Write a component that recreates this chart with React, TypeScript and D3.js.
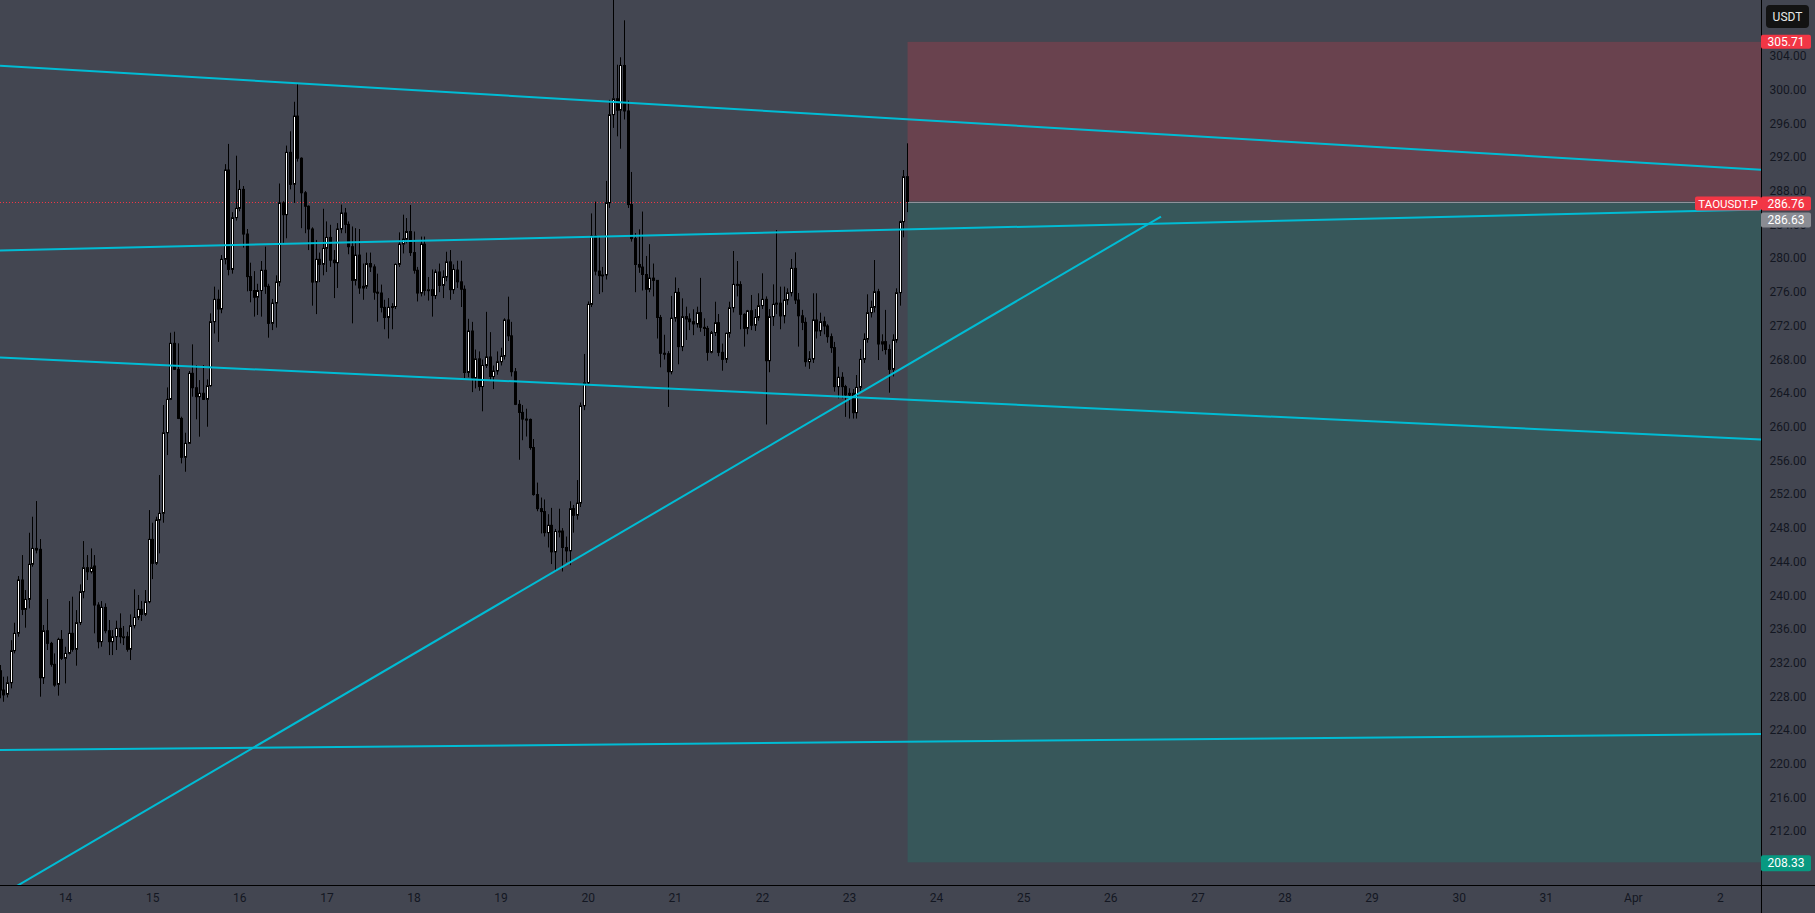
import React from 'react';
import * as d3 from 'd3';

const W = 1815;
const H = 913;
const PLOT_R = 1761;
const PLOT_B = 885;
const HOUR = 3600e3;

// first candle open time (1h candles)
const firstCandle = Date.UTC(2025, 2, 13, 6);

const opens = [
  231.07, 228.78, 228.27, 229.65, 233.45, 235.51, 241.84, 238.35, 239.54, 243.7,
  245.59, 245.48, 230.24, 235.82, 234.32, 231.83, 229.45, 234.79, 232.54, 233.13,
  235.51, 233.61, 236.78, 240.45, 243.3, 242.82, 243.5, 238.87, 234.52, 238.59,
  235.82, 234.52, 235.11, 236.1, 235.11, 235.11, 233.61, 236.42, 237.4, 238.35,
  237.76, 239.26, 246.66, 243.82, 248.96, 249.75, 259.32, 263.28, 269.93, 266.84,
  261.02, 256.4, 258.06, 266.37, 264.66, 263.6, 264.0, 263.28, 264.9, 272.5,
  275.15, 274.0, 279.9, 290.5, 278.7, 284.85, 285.95, 288.2, 282.9, 277.85,
  276.2, 275.4, 276.2, 278.6, 276.7, 272.3, 274.7, 277.2, 286.6, 285.2,
  292.6, 288.8, 296.9, 291.9, 287.8, 286.2, 283.5, 277.2, 279.9, 279.3,
  281.2, 282.5, 279.8, 279.5, 283.5, 285.4, 284.05, 281.4, 277.4, 280.4,
  276.5, 276.7, 279.4, 279.0, 276.0, 275.9, 274.2, 273.0, 274.2, 274.3,
  279.3, 281.7, 282.3, 283.2, 280.7, 278.6, 275.9, 281.7, 276.2, 276.3,
  275.6, 278.4, 276.8, 277.8, 279.6, 276.3, 278.63, 277.23, 276.35, 266.47,
  271.39, 265.81, 268.09, 264.8, 267.3, 268.31, 265.99, 266.65, 267.74, 268.4,
  272.7, 270.82, 266.56, 262.69, 261.73, 260.94, 260.9, 257.56, 251.98, 250.31,
  249.96, 247.46, 248.33, 245.18, 247.6, 247.65, 245.7, 245.3, 250.31, 249.52,
  250.97, 262.52, 265.24, 274.55, 282.67, 278.5, 277.97, 278.05, 286.62, 297.07,
  298.96, 297.6, 302.91, 297.51, 286.4, 282.36, 279.29, 278.98, 278.1, 276.35,
  277.67, 277.4, 273.0, 268.75, 268.7, 266.56, 272.92, 275.98, 269.54, 273.1,
  272.82, 272.5, 272.23, 273.57, 271.83, 271.7, 268.86, 271.2, 272.38, 268.86,
  268.03, 271.12, 274.16, 276.93, 276.9, 273.37, 271.71, 273.8, 272.07, 273.0,
  274.4, 275.15, 267.87, 273.1, 274.56, 274.7, 273.18, 275.07, 275.94, 278.83,
  275.07, 273.2, 272.42, 267.75, 268.07, 272.7, 271.4, 272.5, 271.99, 270.72,
  269.42, 264.79, 265.9, 264.79, 263.8, 264.0, 261.7, 264.7, 268.03, 270.41,
  273.57, 274.2, 276.06, 269.85, 270.13, 269.2, 266.84, 270.33, 275.94, 284.37,
  289.71,
];

const highs = [
  231.75, 230.36, 230.4, 234.7, 236.77, 242.31, 244.8, 240.65, 247.45, 249.35,
  251.21, 246.7, 236.5, 239.58, 234.5, 233.13, 234.99, 235.9, 233.92, 239.34,
  239.86, 238.27, 241.32, 246.46, 244.8, 245.59, 244.8, 239.2, 239.34, 239.07,
  237.09, 235.9, 237.01, 237.88, 236.38, 235.7, 237.76, 240.73, 240.06, 239.34,
  240.65, 250.14, 248.64, 249.35, 254.3, 262.61, 264.7, 271.19, 271.31, 269.93,
  261.22, 259.32, 266.64, 269.81, 267.35, 265.57, 267.35, 265.65, 273.49, 276.66,
  276.3, 280.4, 291.2, 293.6, 285.5, 292.2, 289.3, 288.6, 283.5, 279.5,
  278.5, 277.0, 279.7, 281.4, 277.0, 275.2, 278.0, 288.9, 286.8, 293.4,
  295.1, 298.6, 300.7, 292.0, 288.0, 286.3, 283.7, 282.2, 280.7, 285.9,
  284.4, 284.0, 281.0, 284.2, 286.4, 286.0, 284.4, 283.8, 283.6, 283.5,
  279.4, 280.7, 280.7, 279.3, 278.2, 276.9, 275.1, 275.3, 274.7, 279.4,
  283.1, 285.2, 284.8, 286.35, 283.2, 279.0, 282.6, 282.6, 277.8, 278.7,
  278.7, 279.4, 278.6, 280.8, 281.0, 279.3, 279.73, 279.73, 276.8, 272.84,
  272.48, 269.19, 268.97, 268.0, 273.67, 271.26, 267.3, 268.97, 269.41, 272.9,
  275.47, 272.48, 267.0, 263.2, 262.6, 262.17, 261.0, 258.57, 253.4, 251.63,
  251.4, 249.65, 250.4, 247.9, 250.3, 248.0, 247.0, 251.19, 250.75, 253.7,
  262.9, 268.67, 274.9, 285.35, 286.75, 282.58, 279.0, 289.2, 298.83, 311.5,
  303.0, 303.88, 308.27, 298.74, 290.27, 283.02, 283.46, 285.57, 280.3, 281.7,
  279.4, 277.4, 273.3, 270.95, 269.0, 275.56, 277.75, 276.5, 275.27, 274.28,
  273.49, 273.97, 274.28, 277.7, 272.9, 272.0, 271.4, 274.87, 273.41, 269.9,
  271.2, 274.87, 280.89, 279.7, 277.3, 273.5, 273.9, 275.67, 274.0, 275.87,
  278.24, 275.5, 274.0, 276.93, 283.38, 276.66, 276.66, 276.46, 279.94, 280.73,
  275.9, 273.9, 273.0, 269.0, 275.87, 275.87, 273.57, 273.1, 272.2, 271.1,
  270.1, 267.16, 266.5, 265.0, 264.6, 264.5, 266.17, 269.22, 271.12, 275.75,
  275.0, 279.82, 276.4, 271.0, 273.9, 269.8, 271.0, 276.46, 284.5, 290.5,
  293.67,
];

const lows = [
  227.8, 227.39, 227.9, 228.98, 233.13, 235.11, 237.68, 236.18, 238.47, 243.42,
  245.0, 227.99, 229.5, 233.53, 231.55, 229.17, 228.11, 232.34, 229.57, 233.01,
  233.33, 231.67, 236.49, 239.66, 241.84, 242.6, 235.51, 233.73, 233.92, 235.51,
  232.93, 232.93, 233.53, 234.32, 234.12, 233.33, 232.34, 236.1, 237.09, 236.98,
  237.56, 239.07, 241.95, 243.62, 245.0, 248.64, 256.67, 263.2, 266.76, 260.94,
  255.68, 254.69, 257.98, 263.6, 260.91, 258.85, 263.2, 260.03, 264.8, 271.1,
  270.1, 273.5, 279.3, 278.0, 278.2, 284.5, 285.6, 281.3, 276.1, 274.8,
  273.1, 273.3, 273.1, 275.8, 270.6, 271.5, 271.8, 276.7, 281.8, 282.4,
  288.2, 286.6, 291.5, 283.6, 283.0, 281.0, 274.4, 273.4, 277.2, 278.0,
  278.4, 279.0, 275.3, 276.5, 283.0, 283.0, 280.5, 272.3, 276.8, 275.8,
  275.1, 276.4, 278.4, 275.1, 272.5, 273.6, 271.6, 270.5, 271.6, 274.0,
  279.0, 280.6, 281.8, 280.3, 278.2, 274.9, 275.5, 275.6, 275.0, 273.1,
  275.2, 276.0, 275.3, 277.3, 275.1, 275.8, 276.5, 274.24, 265.8, 265.9,
  264.14, 264.58, 264.3, 261.86, 267.0, 265.5, 264.5, 266.2, 267.3, 268.0,
  270.2, 266.0, 262.6, 256.11, 258.43, 258.87, 257.3, 251.85, 250.0, 247.37,
  247.0, 245.7, 243.73, 242.85, 246.9, 242.85, 243.95, 243.6, 247.46, 249.0,
  250.5, 262.0, 264.93, 274.24, 278.0, 275.78, 276.0, 277.5, 286.0, 295.5,
  294.5, 293.03, 296.5, 286.0, 282.0, 276.0, 278.3, 276.2, 272.79, 276.0,
  275.5, 270.5, 267.08, 268.0, 262.38, 266.25, 272.5, 267.44, 269.0, 270.33,
  271.5, 270.9, 271.8, 271.3, 270.8, 267.87, 268.74, 270.8, 268.4, 266.68,
  267.6, 270.6, 273.6, 275.5, 271.59, 269.54, 271.0, 271.5, 271.4, 272.6,
  274.0, 260.3, 266.5, 272.0, 273.4, 271.6, 272.3, 274.5, 275.5, 274.6,
  269.54, 271.5, 267.16, 266.9, 267.6, 270.5, 270.8, 271.0, 270.0, 268.8,
  264.2, 263.4, 263.4, 261.2, 261.0, 261.0, 261.0, 264.3, 267.6, 270.0,
  273.0, 273.6, 267.95, 269.0, 268.6, 264.07, 266.0, 270.0, 274.4, 282.51,
  285.5,
];

const closes = [
  228.78, 228.2, 229.65, 233.45, 235.51, 241.84, 238.35, 239.54, 243.7, 245.59,
  245.4, 230.24, 235.82, 234.32, 231.83, 229.37, 234.79, 232.54, 233.13, 235.51,
  233.61, 236.78, 240.45, 243.3, 242.82, 243.3, 238.87, 234.52, 238.59, 235.82,
  234.52, 235.11, 236.1, 235.11, 235.11, 233.61, 236.42, 237.4, 238.35, 237.76,
  239.26, 246.66, 243.82, 248.96, 249.75, 259.32, 263.28, 269.93, 266.84, 261.02,
  256.4, 258.06, 266.37, 264.66, 263.6, 264.0, 263.28, 264.9, 272.5, 275.15,
  274.0, 279.9, 290.5, 278.7, 284.85, 285.95, 288.2, 282.9, 277.85, 276.2,
  275.4, 276.2, 278.6, 276.7, 272.3, 274.7, 277.2, 286.6, 285.2, 292.6,
  288.8, 296.9, 291.9, 287.8, 286.2, 283.5, 277.2, 279.9, 279.3, 281.2,
  282.5, 279.8, 279.5, 283.5, 285.4, 284.05, 281.4, 277.4, 280.4, 276.5,
  276.7, 279.4, 279.0, 276.0, 275.9, 274.2, 273.0, 274.2, 274.3, 279.3,
  281.7, 282.3, 283.2, 280.7, 278.6, 275.9, 281.7, 276.2, 276.3, 275.6,
  278.4, 276.8, 277.8, 279.6, 276.3, 278.7, 277.23, 276.35, 266.47, 271.39,
  265.81, 268.09, 264.8, 267.3, 268.31, 265.99, 266.65, 267.74, 268.4, 272.7,
  270.82, 266.56, 262.69, 261.73, 260.94, 260.9, 257.56, 251.98, 250.31, 249.96,
  247.46, 248.33, 245.18, 247.6, 247.65, 245.7, 245.3, 250.31, 249.52, 250.97,
  262.52, 265.24, 274.55, 282.67, 278.5, 277.97, 278.05, 286.62, 297.07, 298.96,
  297.6, 302.91, 297.51, 286.4, 282.36, 279.29, 278.98, 278.1, 276.35, 277.67,
  277.4, 273.0, 268.75, 268.7, 266.56, 272.92, 275.98, 269.54, 273.1, 272.82,
  272.5, 272.23, 273.57, 271.83, 271.7, 268.86, 271.2, 272.38, 268.86, 268.03,
  271.12, 274.16, 276.93, 276.9, 273.37, 271.71, 273.8, 272.07, 273.0, 274.4,
  275.15, 267.87, 273.1, 274.56, 274.7, 273.18, 275.07, 275.94, 278.83, 275.07,
  273.2, 272.42, 267.75, 268.07, 272.7, 271.4, 272.5, 271.99, 270.72, 269.42,
  264.79, 265.9, 264.79, 263.8, 264.0, 261.7, 264.7, 268.03, 270.41, 273.57,
  274.2, 276.06, 269.85, 270.13, 269.2, 266.84, 270.33, 275.94, 284.37, 289.71,
  286.76,
];

// axis ticks
const priceTicks = d3.range(208, 305, 4);
const dayTickDates = d3.range(0, 20).map((d) => Date.UTC(2025, 2, 14 + d));
const dayTickLabels = [
  '14', '15', '16', '17', '18', '19', '20', '21', '22', '23',
  '24', '25', '26', '27', '28', '29', '30', '31', 'Apr', '2',
];

// trend lines: [time, price] anchor pairs
const extendedLines: [number, number][][] = [
  [[Date.UTC(2025, 2, 14), 302.42], [Date.UTC(2025, 3, 1), 291.44]],
  [[Date.UTC(2025, 2, 14), 281.13], [Date.UTC(2025, 3, 1), 285.45]],
  [[Date.UTC(2025, 2, 14), 267.89], [Date.UTC(2025, 3, 1), 259.23]],
  [[Date.UTC(2025, 2, 14), 221.73], [Date.UTC(2025, 3, 1), 223.42]],
];
const segmentLine: [number, number][] = [
  [Date.UTC(2025, 2, 13, 0), 202.86],
  [Date.UTC(2025, 2, 26, 13, 50), 284.97],
];

// position tool levels
const stopPrice = 305.71;
const entryPrice = 286.76;
const targetPrice = 208.33;
const secondPrice = 286.63;
const symbolName = 'TAOUSDT.P';
const currencyName = 'USDT';

const BG = '#434651';
const CYAN = '#00bcd4';
const RED = '#f23645';
const GREEN = '#089981';
const TEXT = '#131722';
const FONT = 'Roboto, "Liberation Sans", sans-serif';

export default function App() {
  const x = d3
    .scaleUtc()
    .domain([Date.UTC(2025, 2, 13, 5, 55), Date.UTC(2025, 3, 2, 11, 10)])
    .range([0, PLOT_R]);
  const y = d3.scaleLinear().domain([205.64, 310.68]).range([PLOT_B, 0]);

  const candles = closes.map((c, i) => ({
    t: firstCandle + i * HOUR,
    o: opens[i],
    h: highs[i],
    l: lows[i],
    c,
  }));

  const lastT = candles[candles.length - 1].t;
  const boxX = x(lastT);
  const fmt = d3.format('.2f');

  const extLine = (pts: [number, number][]) => {
    const x1 = x(pts[0][0]);
    const y1 = y(pts[0][1]);
    const x2 = x(pts[1][0]);
    const y2 = y(pts[1][1]);
    const k = (y2 - y1) / (x2 - x1);
    return { x1: 0, y1: y1 + k * (0 - x1), x2: PLOT_R, y2: y1 + k * (PLOT_R - x1) };
  };

  const yEntry = y(entryPrice);

  return (
    <svg
      width={W}
      height={H}
      style={{ position: 'absolute', left: 0, top: 0, display: 'block' }}
      fontFamily={FONT}
    >
      <defs>
        <clipPath id="plot">
          <rect x={0} y={0} width={PLOT_R} height={PLOT_B} />
        </clipPath>
      </defs>
      <rect x={0} y={0} width={W} height={H} fill={BG} />

      <g clipPath="url(#plot)">
        {/* position boxes */}
        <rect
          x={boxX}
          y={y(stopPrice)}
          width={PLOT_R - boxX}
          height={y(entryPrice) - y(stopPrice)}
          fill={RED}
          fillOpacity={0.22}
        />
        <rect
          x={boxX}
          y={y(entryPrice)}
          width={PLOT_R - boxX}
          height={y(targetPrice) - y(entryPrice)}
          fill={GREEN}
          fillOpacity={0.2}
        />

        {/* last price dotted line */}
        <line
          x1={0}
          x2={1695}
          y1={Math.round(yEntry) + 0.5}
          y2={Math.round(yEntry) + 0.5}
          stroke={RED}
          strokeWidth={1}
          strokeDasharray="1 2"
        />
        <line
          x1={boxX}
          x2={PLOT_R}
          y1={Math.round(yEntry) + 0.5}
          y2={Math.round(yEntry) + 0.5}
          stroke="#8f929b"
          strokeWidth={1}
        />

        {/* candles */}
        {candles.map((d, i) => {
          const cx = Math.floor(x(d.t));
          const up = d.c >= d.o;
          const top = y(Math.max(d.o, d.c));
          const bot = y(Math.min(d.o, d.c));
          const bh = Math.max(1, bot - top);
          return (
            <g key={i}>
              <line
                x1={cx + 0.5}
                x2={cx + 0.5}
                y1={y(d.h)}
                y2={y(d.l)}
                stroke="#000"
                strokeWidth={1}
              />
              <rect
                x={cx - 0.5}
                y={top}
                width={2}
                height={bh}
                fill={up ? '#ffffff' : '#000000'}
                stroke="#000"
                strokeWidth={1}
              />
            </g>
          );
        })}

        {/* trend lines */}
        {extendedLines.map((pts, i) => {
          const l = extLine(pts);
          return (
            <line key={i} {...l} stroke={CYAN} strokeWidth={2} />
          );
        })}
        <line
          x1={x(segmentLine[0][0])}
          y1={y(segmentLine[0][1])}
          x2={x(segmentLine[1][0])}
          y2={y(segmentLine[1][1])}
          stroke={CYAN}
          strokeWidth={2}
        />
      </g>

      {/* axes borders */}
      <line x1={PLOT_R + 0.5} x2={PLOT_R + 0.5} y1={0} y2={H} stroke="#000" strokeWidth={1} />
      <line x1={0} x2={W} y1={PLOT_B + 0.5} y2={PLOT_B + 0.5} stroke="#000" strokeWidth={1} />

      {/* price axis ticks */}
      {priceTicks.map((v) => (
        <text
          key={v}
          x={1788}
          y={y(v)}
          textAnchor="middle"
          dominantBaseline="central"
          fontSize={12}
          fill={TEXT}
        >
          {fmt(v)}
        </text>
      ))}

      {/* date axis ticks */}
      {dayTickDates.map((t, i) => (
        <text
          key={t}
          x={x(t)}
          y={898}
          textAnchor="middle"
          dominantBaseline="central"
          fontSize={12}
          fill={TEXT}
        >
          {dayTickLabels[i]}
        </text>
      ))}

      {/* currency badge */}
      <rect x={1766} y={5} width={43} height={23} rx={4} fill="#131313" />
      <text x={1787.5} y={17} textAnchor="middle" dominantBaseline="central" fontSize={12} fill="#e8e8e8">
        {currencyName}
      </text>

      {/* stop label */}
      <rect x={1761} y={y(stopPrice) - 7} width={50} height={14} rx={2} fill={RED} />
      <text x={1786} y={y(stopPrice)} textAnchor="middle" dominantBaseline="central" fontSize={12} fill="#fff">
        {fmt(stopPrice)}
      </text>

      {/* entry / last price labels */}
      <rect x={1695} y={yEntry - 5} width={66} height={14} rx={2} fill={RED} />
      <text x={1728} y={yEntry + 2} textAnchor="middle" dominantBaseline="central" fontSize={11.5} fill="#fff">
        {symbolName}
      </text>
      <rect x={1761} y={yEntry - 5} width={50} height={14} rx={2} fill={RED} />
      <text x={1786} y={yEntry + 2} textAnchor="middle" dominantBaseline="central" fontSize={12} fill="#fff">
        {fmt(entryPrice)}
      </text>
      <rect x={1761} y={yEntry + 11} width={50} height={15} rx={2} fill="#8a8c93" />
      <text x={1786} y={yEntry + 18.5} textAnchor="middle" dominantBaseline="central" fontSize={12} fill="#fff">
        {fmt(secondPrice)}
      </text>

      {/* target label */}
      <rect x={1761} y={y(targetPrice) - 7} width={50} height={16} rx={2} fill={GREEN} />
      <text x={1786} y={y(targetPrice) + 1} textAnchor="middle" dominantBaseline="central" fontSize={12} fill="#fff">
        {fmt(targetPrice)}
      </text>
    </svg>
  );
}
